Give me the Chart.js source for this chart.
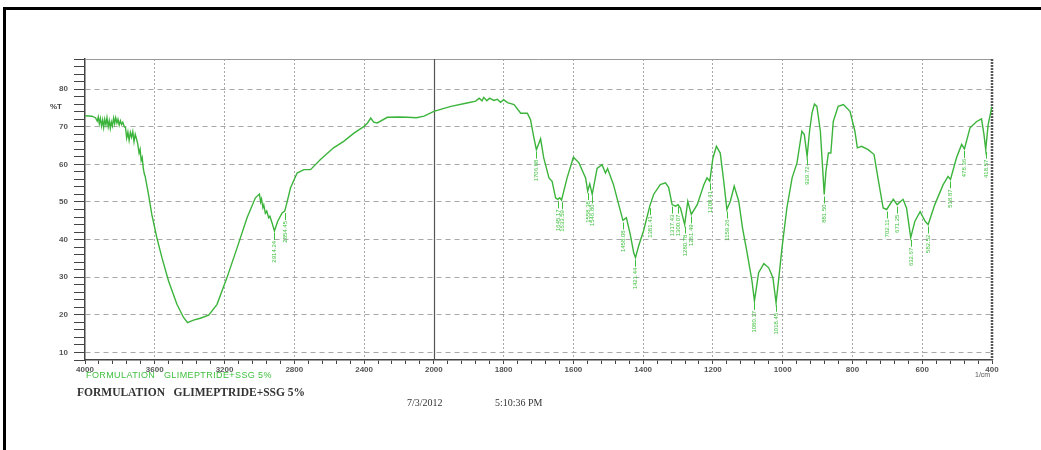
<!DOCTYPE html>
<html>
<head>
<meta charset="utf-8">
<script src="https://cdn.jsdelivr.net/npm/chart.js@4.4.1/dist/chart.umd.min.js"></script>
<style>
  html, body { margin: 0; padding: 0; background: #fff; }
  body { width: 1041px; height: 450px; position: relative; overflow: hidden; font-family: "Liberation Sans", Arial, sans-serif; }
  #frame { position: absolute; left: 3px; top: 7px; width: 1050px; height: 460px; border-top: 3px solid #000; border-left: 3px solid #000; }
  #wrap { position: absolute; left: 0; top: 0; width: 1041px; height: 450px; }
  .t { position: absolute; white-space: pre; line-height: 1; }
</style>
</head>
<body>
<div id="frame"></div>
<div id="wrap"><canvas id="chart" width="1041" height="450"></canvas></div>
<div class="t" style="left:50px;top:103px;font-size:8px;font-weight:bold;color:#444;">%T</div>
<div class="t" style="left:975px;top:371px;font-size:7px;color:#555;">1/cm</div>
<div class="t" style="left:86px;top:371px;font-size:9px;color:#3fc03f;letter-spacing:0.4px;">FORMULATION   GLIMEPTRIDE+SSG 5%</div>
<div class="t" style="left:77px;top:387px;font-size:11.5px;font-family:'Liberation Serif',serif;font-weight:bold;color:#333;">FORMULATION   GLIMEPTRIDE+SSG 5%</div>
<div class="t" style="left:407px;top:398px;font-size:10px;font-family:'Liberation Serif',serif;color:#333;">7/3/2012</div>
<div class="t" style="left:495px;top:398px;font-size:10px;font-family:'Liberation Serif',serif;color:#333;">5:10:36 PM</div>
<script>
// Спектр: волновое число (1/cm) и пропускание (%T)
const wavenumbers = [
  4000, 3960, 3940, 3930, 3924, 3918, 3912, 3905, 3899, 3893, 3887, 3880, 3874, 3867, 3861, 3855, 3849, 3843,
  3836, 3830, 3824, 3817, 3811, 3804, 3797, 3790, 3783, 3775, 3768, 3761, 3754, 3747, 3740, 3733, 3726, 3719,
  3712, 3705, 3698, 3690, 3684, 3678, 3672, 3666, 3660,
  3655, 3636, 3617, 3588, 3559, 3521, 3473, 3435, 3412, 3378, 3339, 3291, 3243, 3186, 3128, 3071, 3023, 3000,
  2993, 2988, 2980, 2975, 2966, 2958, 2947, 2940, 2928, 2914, 2895, 2870, 2855, 2845, 2822, 2784, 2745, 2707,
  2650, 2575, 2517, 2458, 2400, 2380, 2362, 2345, 2324, 2267, 2200, 2152, 2100, 2056, 2000, 1951, 1905,
  1880, 1870, 1862, 1857, 1848, 1840, 1828, 1818, 1809, 1800, 1789, 1770,
  1751, 1732, 1723, 1713, 1706, 1694, 1685, 1670, 1661, 1651, 1645, 1639, 1634, 1618, 1600, 1584, 1565, 1559,
  1553, 1546, 1532, 1518, 1508, 1502, 1485, 1470, 1458, 1448, 1437, 1427, 1422, 1413, 1399, 1381, 1370, 1351,
  1336, 1327, 1317, 1307, 1300, 1293, 1281, 1272, 1262, 1245, 1226, 1217, 1209, 1200, 1190, 1179, 1169, 1160,
  1150, 1139, 1126, 1115, 1103, 1088, 1081, 1069, 1054, 1040, 1028, 1019, 1011, 1002, 988, 973, 959, 945, 938,
  930, 923, 916, 909, 902, 892, 885, 881, 876, 869, 862, 855, 841, 826, 807, 793, 786, 774, 755, 738, 727, 712,
  702, 683, 672, 655, 645, 633, 621, 606, 592, 583, 564, 540, 526, 519, 502, 487, 479, 463, 444, 430, 423, 418,
  411, 400
];
const transmittance = [
  72.9, 72.8, 72.4, 71.5, 72.6, 70.8, 72.2, 70.2, 71.8, 69.8, 72.0, 70.5, 72.4, 70.0, 71.6, 69.6, 71.3, 70.2,
  72.3, 70.8, 72.4, 71.0, 72.0, 70.4, 71.6, 70.6, 71.2, 70.0, 69.8, 67.0, 68.6, 66.4, 68.5, 67.2, 68.7, 66.0,
  68.0, 66.8, 65.5, 63.0, 64.0, 61.0, 61.8, 59.0, 57.5,
  56.8, 52.0, 46.7, 40.5, 35.2, 29.0, 22.8, 19.3, 17.9, 18.6, 19.1, 19.9, 22.8, 29.9, 37.8, 45.8, 51.1, 52.1,
  50.0, 50.8, 48.5, 49.2, 47.0, 47.6, 45.8, 46.2, 44.5, 42.3, 44.9, 47.1, 47.6, 49.3, 53.7, 57.7, 58.6, 58.6,
  61.3, 64.4, 66.1, 68.3, 70.1, 71.0, 72.3, 71.2, 71.0, 72.5, 72.6, 72.5, 72.4, 72.8, 74.1, 75.4, 76.3,
  76.8, 77.6, 76.9, 77.8, 76.9, 77.6, 77.0, 77.3, 76.5, 77.2, 76.4, 75.9,
  73.6, 73.6, 71.9, 67.0, 63.9, 66.8, 61.7, 56.4, 55.5, 51.1, 50.7, 51.1, 50.5, 56.4, 61.9, 60.4, 56.4, 52.9,
  54.8, 52.0, 58.9, 59.9, 57.7, 58.9, 54.6, 49.3, 45.1, 45.8, 41.4, 36.5, 35.2, 38.3, 42.3, 48.9, 52.0, 54.6,
  55.1, 53.9, 49.3, 48.9, 49.3, 48.4, 44.0, 50.2, 46.7, 49.3, 54.6, 56.4, 55.5, 61.7, 64.8, 63.0, 55.5, 48.0,
  50.2, 54.2, 50.2, 43.0, 37.0, 29.0, 23.7, 31.2, 33.6, 32.5, 29.9, 23.2, 29.9, 37.8, 48.4, 56.4, 60.4, 68.8, 67.9,
  62.1, 68.8, 73.6, 76.0, 75.4, 68.8, 58.2, 52.0, 58.2, 63.0, 63.0, 71.4, 75.4, 75.9, 74.1, 68.8, 64.4, 64.8, 63.9, 62.6, 56.4, 48.4,
  48.0, 50.7, 49.3, 50.7, 48.4, 40.5, 44.9, 47.4, 44.9, 44.0, 49.3, 54.6, 56.8, 56.0, 61.7, 65.3, 64.1, 69.7, 71.4, 72.1, 67.9, 63.9,
  70.6, 75.4
];

// Отмеченные пики
const peakWavenumbers = [2914, 2855, 1706, 1645, 1634, 1559, 1546, 1458, 1422, 1381, 1317, 1300, 1281, 1262,
  1209, 1160, 1081, 1019, 930, 881, 702, 672, 633, 583, 519, 479, 418];
const peakValues = [42.3, 47.6, 63.9, 50.7, 50.5, 52.9, 52.0, 45.1, 35.2, 48.9, 49.3, 49.3, 44.0, 46.7,
  55.5, 48.0, 23.7, 23.2, 62.1, 52.0, 48.0, 49.3, 40.5, 44.0, 56.0, 64.1, 63.9];
const peakLabels = ['2914.24', '2854.45', '1706.88', '1645.17', '1633.59', '1558.38', '1546.80', '1458.08',
  '1421.44', '1381.41', '1317.43', '1300.07', '1280.78', '1261.49', '1209.41', '1159.26', '1080.17', '1018.45',
  '929.72', '881.50', '702.11', '671.25', '632.67', '582.52', '518.87', '478.36', '418.57'];

// Подписи оси X (шаг 400 до 2000, затем 200)
const xTickLabels = ['4000', '3600', '3200', '2800', '2400', '2000', '1800', '1600', '1400', '1200', '1000', '800', '600', '400'];

// Масштаб со сменой шага на 2000 1/cm
function toPos(wn) {
  return wn >= 2000 ? (4000 - wn) / 2 : 1000 + (2000 - wn);
}

const lineColor = '#3cb43c';

const extras = {
  id: 'extras',
  beforeDatasetsDraw(chart) {
    const { ctx, chartArea: a, scales: { x } } = chart;
    ctx.save();
    // рамка области графика
    ctx.strokeStyle = '#9a9a9a';
    ctx.lineWidth = 1;
    ctx.beginPath();
    ctx.moveTo(a.left, a.top + 0.5);
    ctx.lineTo(a.right, a.top + 0.5);
    ctx.stroke();
    ctx.strokeStyle = '#555';
    ctx.lineWidth = 2.5;
    ctx.setLineDash([2, 1]);
    ctx.beginPath();
    ctx.moveTo(a.right, a.top);
    ctx.lineTo(a.right, a.bottom);
    ctx.stroke();
    ctx.setLineDash([]);
    // сплошная линия на 2000
    const px = Math.round(x.getPixelForValue(toPos(2000))) + 0.5;
    ctx.strokeStyle = '#555';
    ctx.lineWidth = 1.2;
    ctx.beginPath();
    ctx.moveTo(px, a.top);
    ctx.lineTo(px, a.bottom);
    ctx.stroke();
    ctx.restore();
  },
  afterDatasetsDraw(chart) {
    const { ctx, scales: { x, y } } = chart;
    ctx.save();
    ctx.strokeStyle = '#3fc03f';
    ctx.fillStyle = '#3fc03f';
    ctx.lineWidth = 1;
    ctx.font = '6px "Liberation Sans", Arial, sans-serif';
    ctx.textAlign = 'right';
    ctx.textBaseline = 'middle';
    peakWavenumbers.forEach((wn, i) => {
      const px = Math.round(x.getPixelForValue(toPos(wn))) + 0.5;
      const py = y.getPixelForValue(peakValues[i]);
      ctx.beginPath();
      ctx.moveTo(px, py + 2);
      ctx.lineTo(px, py + 9);
      ctx.stroke();
      ctx.save();
      ctx.translate(px, py + 10);
      ctx.rotate(-Math.PI / 2);
      ctx.fillText(peakLabels[i], 0, 0);
      ctx.restore();
    });
    ctx.restore();
  }
};

const ctx = document.getElementById('chart').getContext('2d');
new Chart(ctx, {
  type: 'line',
  data: {
    datasets: [{
      data: wavenumbers.map((wn, i) => ({ x: toPos(wn), y: transmittance[i] })),
      borderColor: lineColor,
      borderWidth: 1.4,
      pointRadius: 0,
      tension: 0,
      fill: false
    }]
  },
  options: {
    responsive: false,
    animation: false,
    layout: { padding: { top: 59, right: 49, left: 0, bottom: 0 } },
    plugins: { legend: { display: false }, tooltip: { enabled: false } },
    scales: {
      x: {
        type: 'linear',
        min: 0,
        max: 2600,
        afterFit(scale) { scale.height = 90; },
        ticks: {
          stepSize: 40,
          autoSkip: false,
          maxRotation: 0,
          padding: 1,
          color: '#555',
          font: { size: 8, weight: 'bold', family: '"Liberation Sans", Arial, sans-serif' },
          callback(v) { return v % 200 === 0 ? xTickLabels[v / 200] : ''; }
        },
        grid: {
          color(c) {
            const v = c.tick ? c.tick.value : 0;
            return v % 200 === 0 && v !== 0 && v !== 1000 && v !== 2600 ? '#a8a8a8' : 'transparent';
          },
          lineWidth: 1,
          tickColor: '#444',
          tickLength: 4,
          tickWidth: 1
        },
        border: { display: true, color: '#444', width: 1.5, dash: [2, 2] }
      },
      y: {
        min: 8,
        max: 88,
        afterFit(scale) { scale.width = 85; },
        ticks: {
          stepSize: 2,
          autoSkip: false,
          padding: 6,
          color: '#555',
          font: { size: 8, weight: 'bold', family: '"Liberation Sans", Arial, sans-serif' },
          callback(v) { return v % 10 === 0 ? v : ''; }
        },
        grid: {
          color(c) {
            const v = c.tick ? c.tick.value : 0;
            return v % 10 === 0 && v >= 10 && v <= 80 ? '#a8a8a8' : 'transparent';
          },
          lineWidth: 1,
          tickColor: '#444',
          tickLength: 11,
          tickWidth: 1
        },
        border: { display: true, color: '#444', width: 1.5, dash: [5, 4] }
      }
    }
  },
  plugins: [extras]
});
</script>
</body>
</html>
